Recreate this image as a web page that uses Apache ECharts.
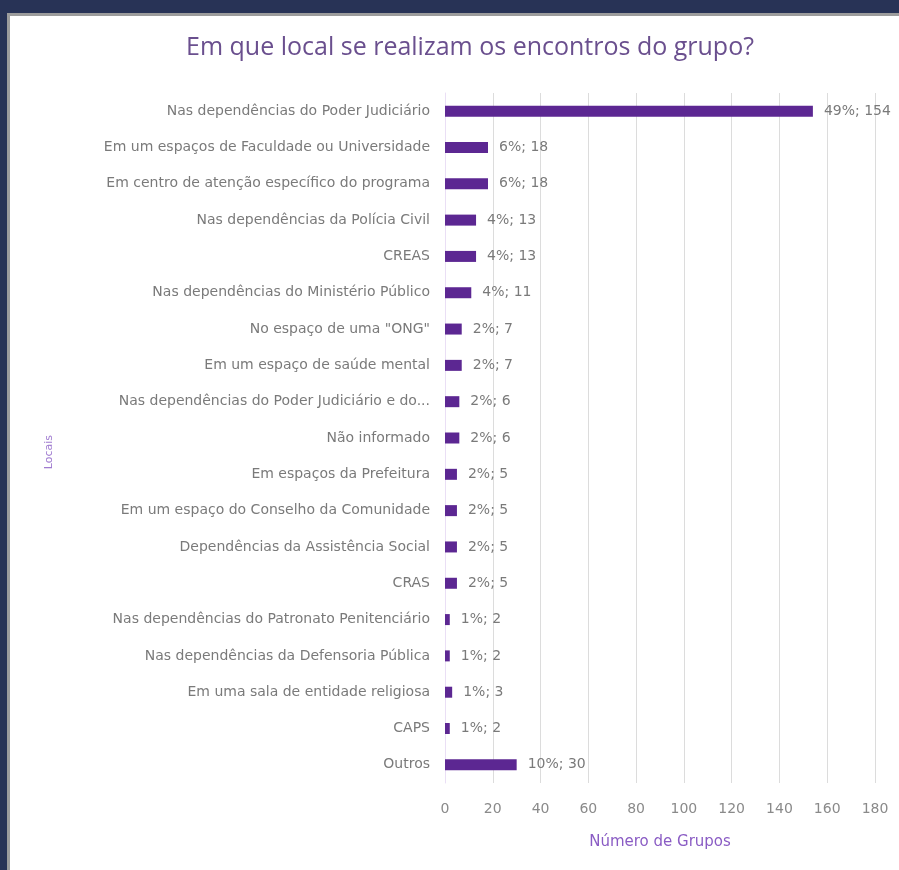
<!DOCTYPE html>
<html>
<head>
<meta charset="utf-8">
<script src="https://cdn.jsdelivr.net/npm/echarts@6/dist/echarts.min.js"></script>
<style>
html,body{margin:0;padding:0;background:#283356;width:899px;height:870px;overflow:hidden;}
#panel{position:absolute;left:7px;top:13px;width:900px;height:870px;background:#fff;border:3px solid #9c9c9c;box-sizing:border-box;}
#chart{position:absolute;left:0;top:0;width:899px;height:870px;}
</style>
</head>
<body>
<div id="panel"></div>
<div id="chart"></div>
<script>
const categories = [
  "Nas dependências do Poder Judiciário",
  "Em um espaços de Faculdade ou Universidade",
  "Em centro de atenção específico do programa",
  "Nas dependências da Polícia Civil",
  "CREAS",
  "Nas dependências do Ministério Público",
  "No espaço de uma \"ONG\"",
  "Em um espaço de saúde mental",
  "Nas dependências do Poder Judiciário e do...",
  "Não informado",
  "Em espaços da Prefeitura",
  "Em um espaço do Conselho da Comunidade",
  "Dependências da Assistência Social",
  "CRAS",
  "Nas dependências do Patronato Penitenciário",
  "Nas dependências da Defensoria Pública",
  "Em uma sala de entidade religiosa",
  "CAPS",
  "Outros"
];
const values = [154, 18, 18, 13, 13, 11, 7, 7, 6, 6, 5, 5, 5, 5, 2, 2, 3, 2, 30];
const percents = [49, 6, 6, 4, 4, 4, 2, 2, 2, 2, 2, 2, 2, 2, 1, 1, 1, 1, 10];
const xTicks = [0, 20, 40, 60, 80, 100, 120, 140, 160, 180];

const chart = echarts.init(document.getElementById('chart'), null, {renderer:'canvas'});
chart.setOption({
  backgroundColor: 'transparent',
  animation: false,
  title: {
    text: 'Em que local se realizam os encontros do grupo?',
    left: 465, top: 30, textAlign: 'center',
    textStyle: {color: '#6a4f8e', fontSize: 25, fontWeight: 'normal', fontFamily: 'Open Sans, sans-serif'}
  },
  graphic: [{
    type: 'text', left: 44, top: 435, rotation: Math.PI / 2,
    style: {text: 'Locais', fill: '#a07cd0', fontSize: 11, fontFamily: 'DejaVu Sans, sans-serif'}
  }],
  grid: {left: 445, right: 24, top: 93, bottom: 87, containLabel: false},
  xAxis: {
    type: 'value', min: xTicks[0], max: xTicks[xTicks.length-1], interval: 20,
    name: 'Número de Grupos', nameLocation: 'middle', nameGap: 52,
    nameTextStyle: {color: '#8a5cc4', fontSize: 15, fontFamily: 'DejaVu Sans, sans-serif'},
    axisLine: {show: false}, axisTick: {show: false},
    axisLabel: {color: '#8a8a8a', fontSize: 14, margin: 19, fontFamily: 'DejaVu Sans, sans-serif'},
    splitLine: {show: true, lineStyle: {color: '#dcdcdc', width: 1}}
  },
  yAxis: {
    type: 'category', data: categories, inverse: true,
    axisLine: {show: true, lineStyle: {color: '#eadff5'}}, axisTick: {show: false},
    axisLabel: {color: '#7a7a7a', fontSize: 14, margin: 15, fontFamily: 'DejaVu Sans, sans-serif'},
    splitLine: {show: false}
  },
  series: [{
    type: 'bar', data: values, barWidth: 11,
    itemStyle: {color: '#5c2792'},
    label: {
      show: true, position: 'right', distance: 11, color: '#7a7a7a', fontSize: 14,
      fontFamily: 'DejaVu Sans, sans-serif',
      formatter: p => percents[p.dataIndex] + '%; ' + p.value
    }
  }]
});
</script>
</body>
</html>
